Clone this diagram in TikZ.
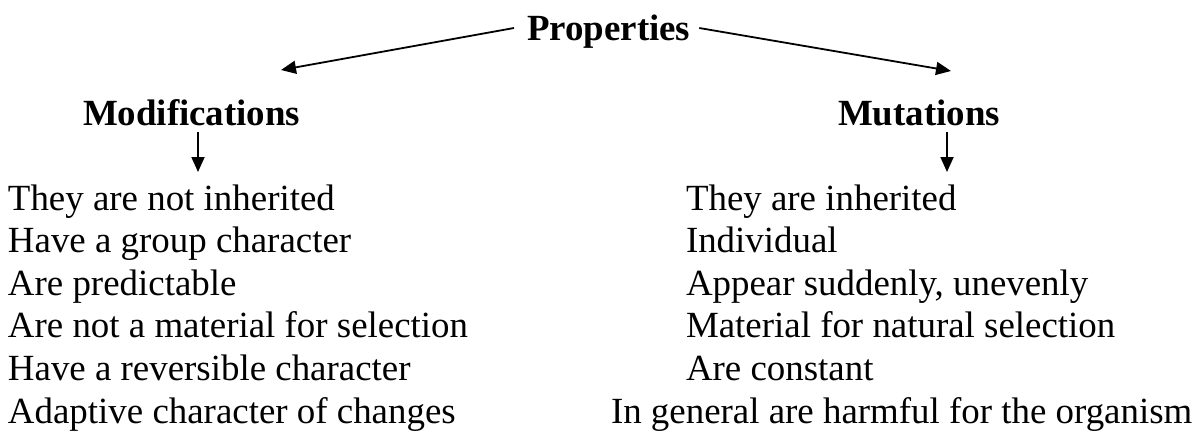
\documentclass[tikz,border=0pt]{standalone}
\usepackage{fontspec}
\setmainfont{Liberation Serif}
\usetikzlibrary{arrows.meta}
\begin{document}
\begin{tikzpicture}[x=1pt,y=-1pt,
  txt/.style={inner sep=0pt,outer sep=0pt,anchor=base west,font=\fontsize{36.9}{42.6}\selectfont},
  head/.style={txt,font=\fontsize{36.9}{42.6}\selectfont\bfseries},
  arr/.style={line width=1.8pt,-{Triangle[length=15pt,width=13pt]}}]
\useasboundingbox (0,0) rectangle (1204,432);
\node[head] (prop) at (527,40) {Properties};
\node[head] (modif) at (83,125) {Modifications};
\node[head] (mut) at (838,125) {Mutations};
% left column
\node[txt] (l1) at (8,210) {They are not inherited};
\node[txt] (l2) at (8,252.6) {Have a group character};
\node[txt] (l3) at (8,295.2) {Are predictable};
\node[txt] (l4) at (8,337.8) {Are not a material for selection};
\node[txt] (l5) at (8,380.4) {Have a reversible character};
\node[txt] (l6) at (8,423) {Adaptive character of changes};
% right column
\node[txt] (r1) at (686,210) {They are inherited};
\node[txt] (r2) at (686,252.6) {Individual};
\node[txt] (r3) at (686,295.2) {Appear suddenly, unevenly};
\node[txt] (r4) at (686,337.8) {Material for natural selection};
\node[txt] (r5) at (686,380.4) {Are constant};
\node[txt] (r6) at (611,423) {In general are harmful for the organism};
% connectors
\coordinate (tipL) at (281,70);
\coordinate (tipR) at (951,71);
\coordinate (tipM) at (198,172);
\coordinate (tipU) at (947,172);
\draw[arr] ([shift={(-13pt,12pt)}]prop.base west) -- (tipL);
\draw[arr] ([shift={(9pt,12pt)}]prop.base east) -- (tipR);
\draw[arr] (modif.base -| tipM) ++(0,7) -- (tipM);
\draw[arr] (mut.base -| tipU) ++(0,7) -- (tipU);
\end{tikzpicture}
\end{document}
